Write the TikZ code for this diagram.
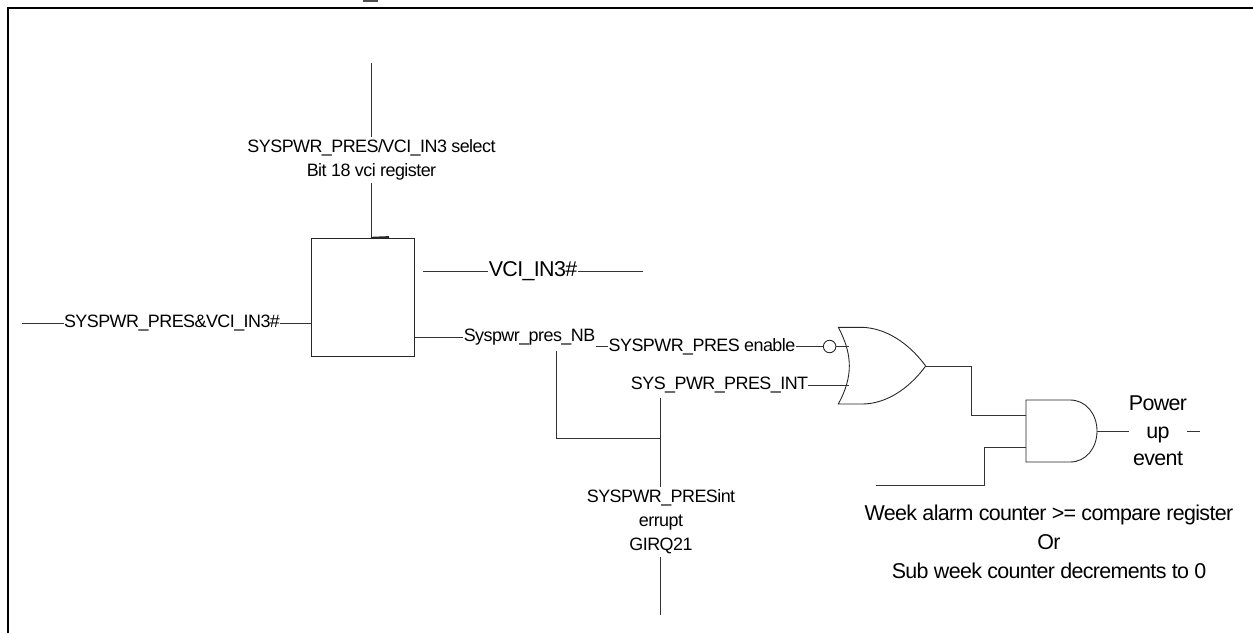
\documentclass[tikz,border=0pt]{standalone}
\usepackage{fontspec}
\setmainfont[LetterSpace=-3]{Liberation Sans}
\usetikzlibrary{positioning}
\tikzset{
  wire/.style={draw=black!80,line width=0.5pt},
  lbl/.style={font=\fontsize{10.2}{13.7}\selectfont,align=center,inner sep=0pt,text=black},
  biglbl/.style={font=\fontsize{12.2}{15.7}\selectfont,align=center,inner sep=0pt,text=black},
  gate/.style={draw=black!85,line width=0.5pt},
}
\begin{document}
\begin{tikzpicture}[x=0.02cm,y=-0.02cm]
\useasboundingbox (0,0) rectangle (1253,633);
\fill[white] (0,0) rectangle (1253,633);
% frame
\draw[line width=1pt] (8,633) -- (8,8) -- (1253,8);
\fill[black!70] (363,0) rectangle (378,1.8);
% mux
\node[draw=black!85,line width=0.5pt,minimum width=2.06cm,minimum height=2.36cm,inner sep=0pt] (mux) at (363,297) {};
\node[lbl] (sel) at (371.5,160) {SYSPWR\_PRES/VCI\_IN3 select\\Bit 18 vci register};
\node[lbl] (in) at (172,323) {SYSPWR\_PRES\&VCI\_IN3\#};
\node[biglbl] (vci) at (533,271) {VCI\_IN3\#};
\node[lbl] (nb) at (529.5,337.5) {Syspwr\_pres\_NB};
\node[lbl] (en) at (702,346.5) {SYSPWR\_PRES enable};
\node[lbl] (intr) at (719.5,385) {SYS\_PWR\_PRES\_INT};
\node[lbl] (girq) at (661,522) {SYSPWR\_PRESint\\errupt\\GIRQ21};
\node[biglbl,font=\fontsize{12.2}{15.6}\selectfont] (pwr) at (1158,431) {Power\\up\\event};
\node[biglbl,font=\fontsize{12.2}{16.5}\selectfont] (week) at (1049,542) {Week alarm counter >= compare register\\Or\\Sub week counter decrements to 0};
% free ends
\coordinate (seltop) at (371,63);
\coordinate (selb) at (371,137);
\coordinate (selc) at (371,183);
\coordinate (muxt) at (371,237.7);
\coordinate (muxs) at (389,237);
\coordinate (inl) at (22,323);
\coordinate (vcil) at (423,271);
\coordinate (vcir) at (643,271);
\coordinate (nbt) at (556,351);
\coordinate (nbb) at (556,438);
\coordinate (tap) at (660,438);
\coordinate (intb) at (660,398);
\coordinate (girqt) at (660,486.7);
\coordinate (girqc) at (660,557);
\coordinate (girqb) at (660,615);
\coordinate (weekl) at (876,485);
\coordinate (weekc) at (984,485);
\coordinate (dashl) at (1187,431);
\coordinate (dashr) at (1200,431);
% gates
\draw[gate] (838.3,327.3) .. controls (853,355) and (853,377) .. (838.3,404) -- (862,404)
  .. controls (885,404) and (908,390) .. (925.7,366)
  .. controls (908,342) and (885,328) .. (862,327.3) -- cycle;
\draw[gate] (1026,400) -- (1070,400) .. controls (1086,400) and (1097,414) .. (1097,431)
  .. controls (1097,448) and (1086,462) .. (1070,462) -- (1026,462) -- cycle;
\coordinate (orout) at (925.7,366);
\coordinate (ora) at (848.5,346.5);
\coordinate (orb) at (848.5,385);
\coordinate (orc) at (971.5,366);
\coordinate (ord) at (971.5,415);
\coordinate (anda) at (1026,415);
\coordinate (andb) at (1026,447);
\coordinate (andc) at (984,447);
\coordinate (andout) at (1097,431);
\node[circle,draw=black!85,line width=0.5pt,minimum size=0.25cm,inner sep=0pt] (bub) at (829.6,346.5) {};
% wires
\draw[wire] (seltop) -- (selb);
\draw[wire] (selc) -- (muxt);
\draw[line width=1pt,black!85] (muxt) -- (muxs);
\draw[wire] (inl) -- (in.west);
\draw[wire] (in.east) -- (mux.west |- in.east);
\draw[wire] (vcil) -- (vci.west);
\draw[wire] (vci.east) -- (vcir);
\draw[wire] (mux.east |- nb.west) -- (nb.west);
\draw[wire] (nb.east |- en.west) -- (en.west);
\draw[wire] (en.east) -- (bub.west);
\draw[wire] (bub.east) -- (ora);
\draw[wire] (intr.east) -- (orb);
\draw[wire] (nbt) -- (nbb) -- (tap);
\draw[wire] (intb) -- (girqt);
\draw[wire] (girqc) -- (girqb);
\draw[wire] (orout) -- (orc) -- (ord) -- (anda);
\draw[wire] (weekl) -- (weekc) -- (andc) -- (andb);
\draw[wire] (andout) -- (pwr.west |- andout);
\draw[wire] (dashl) -- (dashr);
\end{tikzpicture}
\end{document}
